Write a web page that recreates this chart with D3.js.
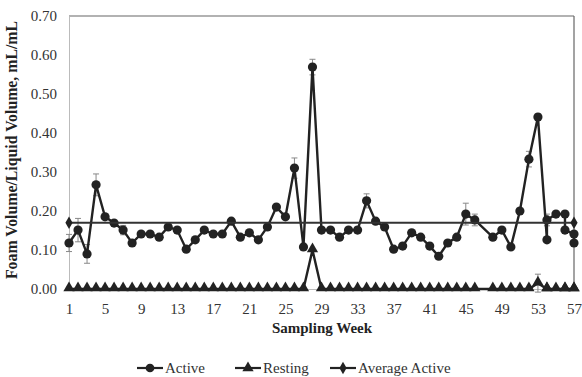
<!DOCTYPE html>
<html>
<head>
<meta charset="utf-8">
<script src="https://cdn.jsdelivr.net/npm/d3@7"></script>
<style>
  body { margin: 0; background: #fff; }
  svg { display: block; font-family: "Liberation Serif", "Times New Roman", serif; }
</style>
</head>
<body>
<svg id="chart" width="582" height="377"></svg>
<script>
// sampling weeks (week 47 not sampled, weeks 54, 56, 57 sampled twice)
const weeks = [1,2,3,4,5,6,7,8,9,10,11,12,13,14,15,16,17,18,19,20,21,22,23,24,25,26,27,28,29,30,
  31,32,33,34,35,36,37,38,39,40,41,42,43,44,45,46,48,49,50,51,52,53,54,54,55,56,56,57,57];
const active = [0.118,0.151,0.090,0.267,0.185,0.169,0.151,0.118,0.141,0.141,0.133,0.159,0.151,0.102,0.126,
  0.151,0.141,0.141,0.174,0.133,0.144,0.126,0.159,0.210,0.185,0.310,0.108,0.569,0.151,0.151,
  0.133,0.151,0.151,0.226,0.174,0.159,0.102,0.110,0.144,0.133,0.110,0.084,0.118,0.133,0.192,
  0.177,0.133,0.151,0.108,0.200,0.333,0.441,0.126,0.177,0.192,0.192,0.151,0.141,0.118];
const activeErr = [0.022,0.030,0.024,0.028,0.006,0.006,0.012,0.005,0.005,0.005,0.005,0.005,0.005,0.005,0.005,
  0.005,0.005,0.005,0.005,0.005,0.005,0.005,0.005,0.005,0.005,0.026,0.005,0.020,0.005,0.005,
  0.005,0.005,0.005,0.018,0.005,0.005,0.005,0.005,0.005,0.005,0.005,0.005,0.005,0.005,0.028,
  0.015,0.005,0.005,0.005,0.005,0.020,0.008,0.005,0.015,0.005,0.005,0.005,0.005,0.005];
const resting = weeks.map(w => w === 28 ? 0.10 : (w === 53 ? 0.015 : 0));
const restingErr = weeks.map(w => w === 53 ? 0.023 : 0);
const avgWeeks = [1, 57];
const avgActive = [0.17, 0.17];
const yTicks = [0, 0.1, 0.2, 0.3, 0.4, 0.5, 0.6, 0.7];
const xTicks = [1,5,9,13,17,21,25,29,33,37,41,45,49,53,57];
const legendItems = ["Active", "Resting", "Average Active"];

const svg = d3.select("#chart");
const ink = "#222";

const x = d3.scaleLinear().domain([1, 57]).range([69, 574]);
const y = d3.scaleLinear().domain([0, 0.7]).range([289, 16]);

// plot frame
svg.append("line").attr("x1", x(1)).attr("x2", x(57)).attr("y1", y(0.7)).attr("y2", y(0.7))
  .attr("stroke", "#666").attr("stroke-width", 1.2);
svg.append("line").attr("x1", x(57)).attr("x2", x(57)).attr("y1", y(0.7)).attr("y2", y(0))
  .attr("stroke", "#666").attr("stroke-width", 1.2);

const yAxis = svg.append("g").attr("transform", `translate(${x(1)},0)`)
  .call(d3.axisLeft(y).tickValues(yTicks).tickFormat(d3.format(".2f")).tickSize(0).tickPadding(12));
const xAxis = svg.append("g").attr("transform", `translate(0,${y(0)})`)
  .call(d3.axisBottom(x).tickValues(xTicks).tickFormat(d3.format("d")).tickSize(0).tickPadding(14));
[yAxis, xAxis].forEach(a => {
  a.select(".domain").attr("stroke", "#bbb").attr("stroke-width", 1);
  a.selectAll("text").attr("font-size", 15).attr("fill", "#333")
    .attr("font-family", "Liberation Serif");
});

// axis titles
svg.append("text").attr("x", 322).attr("y", 333).attr("text-anchor", "middle")
  .attr("font-size", 15).attr("font-weight", "bold").attr("fill", "#222").text("Sampling Week");
svg.append("text").attr("transform", `translate(17,150) rotate(-90)`).attr("text-anchor", "middle")
  .attr("font-size", 15.8).attr("font-weight", "bold").attr("fill", "#222")
  .text("Foam Volume/Liquid Volume, mL/mL");

const act = weeks.map((w, i) => ({ w, v: active[i], e: activeErr[i] }));
const rest = weeks.map((w, i) => ({ w, v: resting[i], e: restingErr[i] }));
const avg = avgWeeks.map((w, i) => ({ w, v: avgActive[i] }));

const line = d3.line().x(d => x(d.w)).y(d => y(d.v));

function errorBars(data) {
  const g = svg.append("g").attr("stroke", "#888").attr("stroke-width", 1);
  data.filter(d => d.e > 0).forEach(d => {
    const cx = x(d.w);
    g.append("line").attr("x1", cx).attr("x2", cx).attr("y1", y(d.v - d.e)).attr("y2", y(d.v + d.e));
    [d.v - d.e, d.v + d.e].forEach(v =>
      g.append("line").attr("x1", cx - 3).attr("x2", cx + 3).attr("y1", y(v)).attr("y2", y(v)));
  });
}

errorBars(act);
errorBars(rest);

// Active
svg.append("path").datum(act).attr("d", line).attr("fill", "none")
  .attr("stroke", ink).attr("stroke-width", 2.4);
svg.append("g").selectAll("circle").data(act).join("circle")
  .attr("cx", d => x(d.w)).attr("cy", d => y(d.v)).attr("r", 4.6).attr("fill", ink);

// Resting
svg.append("path").datum(rest).attr("d", line).attr("fill", "none")
  .attr("stroke", ink).attr("stroke-width", 2.4);
const tri = d3.symbol().type(d3.symbolTriangle).size(55);
svg.append("g").selectAll("path").data(rest).join("path")
  .attr("d", tri).attr("transform", d => `translate(${x(d.w)},${y(d.v) - 1})`).attr("fill", ink);

// Average Active
svg.append("path").datum(avg).attr("d", line).attr("fill", "none")
  .attr("stroke", "#333").attr("stroke-width", 2);
const dia = d3.symbol().type(d3.symbolDiamond).size(45);
svg.append("g").selectAll("path").data(avg).join("path")
  .attr("d", dia).attr("transform", d => `translate(${x(d.w)},${y(d.v)})`).attr("fill", ink);

// legend
const legendX = [137, 235, 330];
const symbols = [d3.symbol().type(d3.symbolCircle).size(60), tri, dia];
const legend = svg.append("g");
legendItems.forEach((name, i) => {
  const lx = legendX[i], ly = 368;
  legend.append("line").attr("x1", lx).attr("x2", lx + 26).attr("y1", ly).attr("y2", ly)
    .attr("stroke", ink).attr("stroke-width", 2.2);
  legend.append("path").attr("d", symbols[i]).attr("transform", `translate(${lx + 13},${ly})`).attr("fill", ink);
  legend.append("text").attr("x", lx + 28).attr("y", ly + 5).attr("font-size", 15)
    .attr("fill", "#333").text(name);
});
</script>
</body>
</html>
